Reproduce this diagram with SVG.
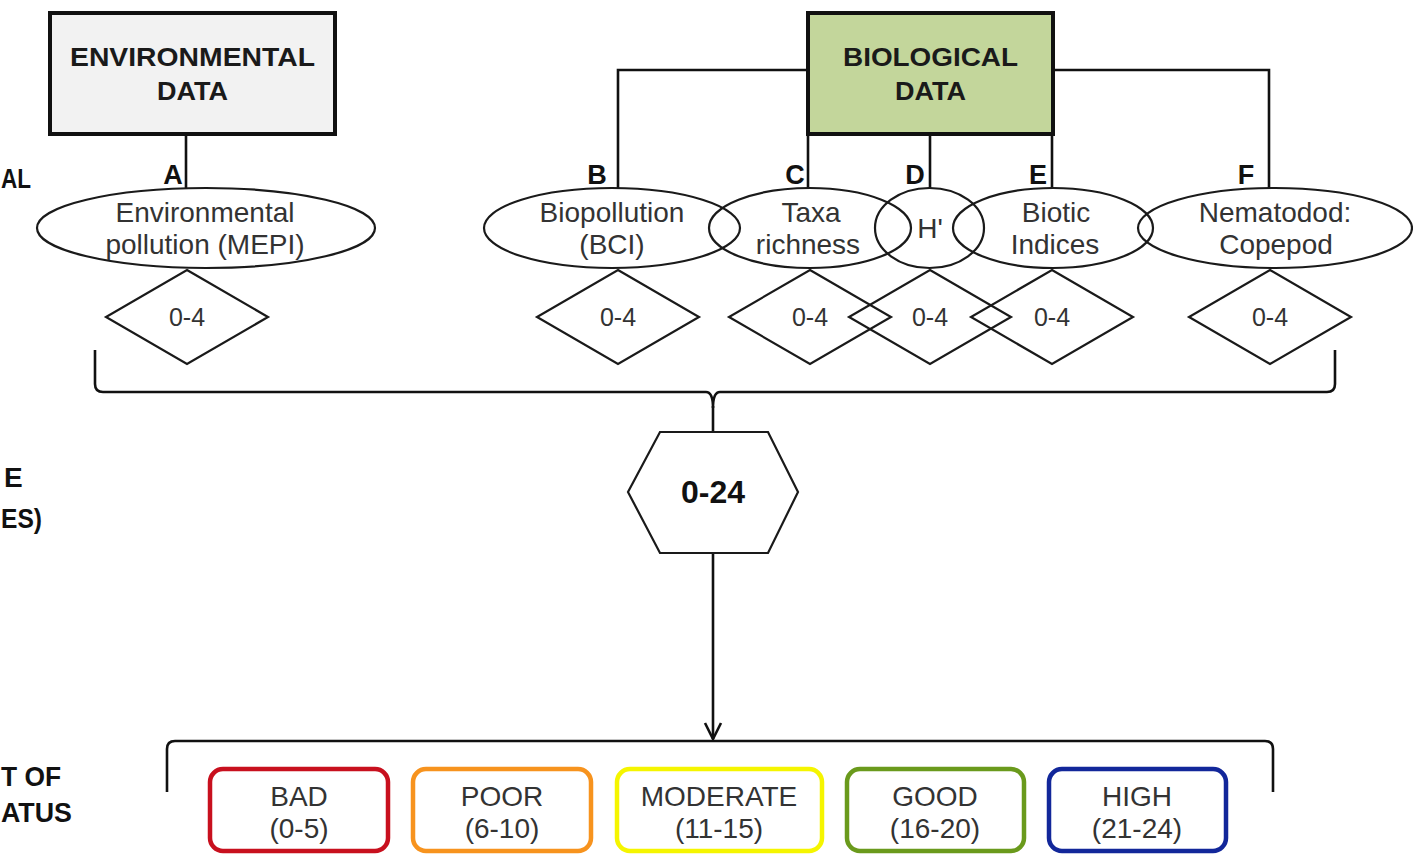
<svg xmlns="http://www.w3.org/2000/svg" width="1413" height="855" viewBox="0 0 1413 855">
<style>
.bg{fill:#ffffff}
.box{stroke:#111;stroke-width:4}
.ln{fill:none;stroke:#111;stroke-width:2.6}
.sh{fill:none;stroke:#1a1a1a;stroke-width:2.2}
.hd{font-family:"Liberation Sans",Arial,sans-serif;font-weight:bold;font-size:25px;fill:#1a1a1a;text-anchor:middle}
.lb{font-family:"Liberation Sans",Arial,sans-serif;font-weight:bold;font-size:27px;fill:#111;text-anchor:middle}
.side{font-family:"Liberation Sans",Arial,sans-serif;font-weight:bold;font-size:28px;fill:#111;text-anchor:start}
.tx{font-family:"Liberation Sans",Arial,sans-serif;font-size:28px;fill:#333;text-anchor:middle}
.dt{font-family:"Liberation Sans",Arial,sans-serif;font-size:25px;fill:#333;text-anchor:middle}
.cat{fill:#fff;stroke-width:4.5}
</style>
<defs>
<marker id="arr" viewBox="0 0 20 20" refX="18" refY="10" markerWidth="20" markerHeight="20" markerUnits="userSpaceOnUse" orient="auto">
<path d="M2 2 L18 10 L2 18" fill="none" stroke="#111" stroke-width="2.6"/>
</marker>
</defs>
<rect class="bg" x="0" y="0" width="1413" height="855"/>

<g id="side-labels">
<text class="side" x="1" y="188" textLength="30" lengthAdjust="spacingAndGlyphs">AL</text>
<text class="side" x="4" y="487">E</text>
<text class="side" x="1" y="528" textLength="41" lengthAdjust="spacingAndGlyphs">ES)</text>
<text class="side" x="1" y="786" textLength="60" lengthAdjust="spacingAndGlyphs">T OF</text>
<text class="side" x="1" y="822" textLength="71" lengthAdjust="spacingAndGlyphs">ATUS</text>
</g>

<g id="connectors">
<line class="ln" x1="186" y1="135" x2="186" y2="189"/>
<polyline class="ln" points="808,70 618,70 618,188"/>
<line class="ln" x1="808" y1="135" x2="808" y2="188"/>
<line class="ln" x1="930" y1="135" x2="930" y2="188"/>
<line class="ln" x1="1052" y1="135" x2="1052" y2="188"/>
<polyline class="ln" points="1053,70 1269,70 1269,188"/>
<path class="ln" d="M95 350 L95 384 Q95 392 103 392 L706 392 Q713 392 713 408 Q713 392 720 392 L1327 392 Q1335 392 1335 384 L1335 350"/>
<line class="ln" x1="713" y1="406" x2="713" y2="432"/>
<line class="ln" x1="713" y1="553" x2="713" y2="739" marker-end="url(#arr)"/>
<path class="ln" d="M167 792 L167 749 Q167 741 175 741 L1265 741 Q1273 741 1273 749 L1273 792"/>
</g>

<g id="env-data">
<rect class="box" x="50" y="13" width="285" height="121" fill="#f2f2f2"/>
<text class="hd" x="192.5" y="66" textLength="245" lengthAdjust="spacingAndGlyphs">ENVIRONMENTAL</text>
<text class="hd" x="192.5" y="100" textLength="71" lengthAdjust="spacingAndGlyphs">DATA</text>
</g>

<g id="bio-data">
<rect class="box" x="808" y="13" width="245" height="121" fill="#c3d69b"/>
<text class="hd" x="930.5" y="66" textLength="175" lengthAdjust="spacingAndGlyphs">BIOLOGICAL</text>
<text class="hd" x="930.5" y="100" textLength="71" lengthAdjust="spacingAndGlyphs">DATA</text>
</g>

<g id="letters">
<text class="lb" x="173" y="184">A</text>
<text class="lb" x="597" y="184">B</text>
<text class="lb" x="795" y="184">C</text>
<text class="lb" x="915" y="184">D</text>
<text class="lb" x="1038" y="184">E</text>
<text class="lb" x="1246" y="184">F</text>
</g>

<g id="node-A">
<ellipse class="sh" cx="206" cy="228" rx="169" ry="40"/>
<text class="tx" x="205" y="222">Environmental</text>
<text class="tx" x="205" y="254">pollution (MEPI)</text>
</g>
<g id="node-B">
<ellipse class="sh" cx="612" cy="228" rx="128" ry="40"/>
<text class="tx" x="612" y="222">Biopollution</text>
<text class="tx" x="612" y="254">(BCI)</text>
</g>
<g id="node-C">
<ellipse class="sh" cx="810" cy="228" rx="101" ry="40"/>
<text class="tx" x="811" y="222">Taxa</text>
<text class="tx" x="808" y="254">richness</text>
</g>
<g id="node-D">
<ellipse class="sh" cx="929.5" cy="228" rx="54.5" ry="40"/>
<text class="tx" x="930" y="238">H'</text>
</g>
<g id="node-E">
<ellipse class="sh" cx="1053" cy="228" rx="100" ry="40"/>
<text class="tx" x="1056" y="222">Biotic</text>
<text class="tx" x="1055" y="254">Indices</text>
</g>
<g id="node-F">
<ellipse class="sh" cx="1275" cy="228" rx="137" ry="40"/>
<text class="tx" x="1275" y="222">Nematodod:</text>
<text class="tx" x="1276" y="254">Copepod</text>
</g>

<g id="score-A"><polygon class="sh" points="187,270 268,317 187,364 106,317"/><text class="dt" x="187" y="326">0-4</text></g>
<g id="score-B"><polygon class="sh" points="618,270 699,317 618,364 537,317"/><text class="dt" x="618" y="326">0-4</text></g>
<g id="score-C"><polygon class="sh" points="810,270 891,317 810,364 729,317"/><text class="dt" x="810" y="326">0-4</text></g>
<g id="score-D"><polygon class="sh" points="930,270 1011,317 930,364 849,317"/><text class="dt" x="930" y="326">0-4</text></g>
<g id="score-E"><polygon class="sh" points="1052,270 1133,317 1052,364 971,317"/><text class="dt" x="1052" y="326">0-4</text></g>
<g id="score-F"><polygon class="sh" points="1270,270 1351,317 1270,364 1189,317"/><text class="dt" x="1270" y="326">0-4</text></g>

<g id="total">
<polygon class="sh" points="660,432 768,432 798,492 768,553 660,553 628,492" fill="#fff"/>
<text class="lb" x="713" y="503" style="font-size:32px">0-24</text>
</g>

<g id="cat-bad">
<rect class="cat" x="210" y="769" width="178" height="82" rx="13" stroke="#c8101e"/>
<text class="tx" x="299" y="806">BAD</text>
<text class="tx" x="299" y="838">(0-5)</text>
</g>
<g id="cat-poor">
<rect class="cat" x="413" y="769" width="178" height="82" rx="13" stroke="#f7931e"/>
<text class="tx" x="502" y="806">POOR</text>
<text class="tx" x="502" y="838">(6-10)</text>
</g>
<g id="cat-moderate">
<rect class="cat" x="617" y="769" width="205" height="82" rx="13" stroke="#f5f500"/>
<text class="tx" x="719" y="806">MODERATE</text>
<text class="tx" x="719" y="838">(11-15)</text>
</g>
<g id="cat-good">
<rect class="cat" x="847" y="769" width="177" height="82" rx="13" stroke="#6a9a1c"/>
<text class="tx" x="935" y="806">GOOD</text>
<text class="tx" x="935" y="838">(16-20)</text>
</g>
<g id="cat-high">
<rect class="cat" x="1049" y="769" width="177" height="82" rx="13" stroke="#12279a"/>
<text class="tx" x="1137" y="806">HIGH</text>
<text class="tx" x="1137" y="838">(21-24)</text>
</g>
</svg>
